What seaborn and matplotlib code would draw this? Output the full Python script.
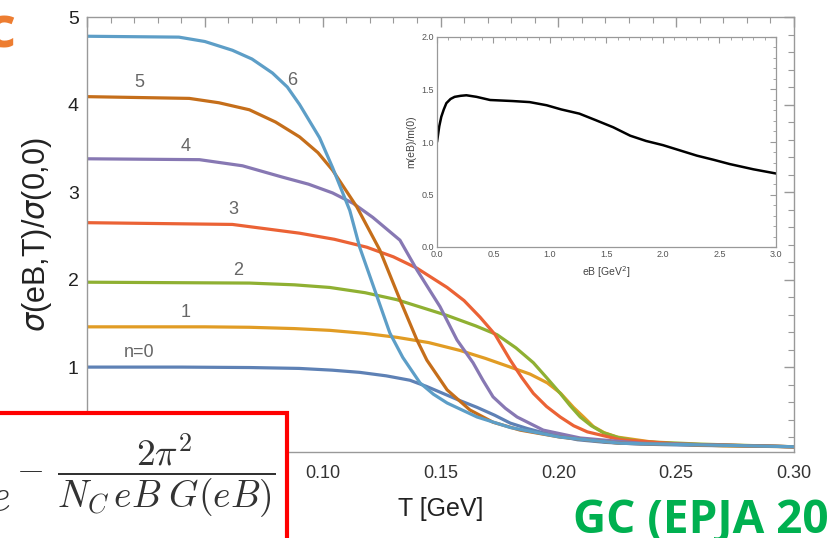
import numpy as np
import pandas as pd
import matplotlib
matplotlib.use("Agg")
import matplotlib.pyplot as plt
import seaborn as sns
from matplotlib.ticker import MultipleLocator, FormatStrFormatter
from matplotlib.patches import Rectangle

# ---------------- data ----------------
labels = ["n=0", "1", "2", "3", "4", "5", "6"]
colors = ["#5E81B5", "#E19C24", "#8FB032", "#EB6235", "#8778B3", "#C56E1A", "#5D9EC7"]

T_n0 = [0.0, 0.04, 0.069, 0.090, 0.104, 0.1157, 0.127, 0.137, 0.144, 0.151, 0.158, 0.1655, 0.173, 0.1796, 0.1866, 0.1936, 0.2008, 0.2081, 0.22, 0.235, 0.26, 0.30]
v_n0 = [1.0, 1.0, 0.995, 0.985, 0.965, 0.94, 0.90, 0.85, 0.78, 0.70, 0.62, 0.54, 0.45, 0.36, 0.30, 0.25, 0.21, 0.17, 0.14, 0.12, 0.105, 0.09]

T_n1 = [0.0, 0.05, 0.069, 0.088, 0.103, 0.118, 0.1315, 0.145, 0.1583, 0.169, 0.1796, 0.188, 0.1953, 0.201, 0.2064, 0.2107, 0.2149, 0.2195, 0.2251, 0.2434, 0.27, 0.30]
v_n1 = [1.46, 1.46, 1.455, 1.44, 1.42, 1.385, 1.34, 1.28, 1.19, 1.10, 1.00, 0.92, 0.82, 0.70, 0.54, 0.43, 0.32, 0.25, 0.20, 0.13, 0.10, 0.09]

T_n2 = [0.0, 0.069, 0.088, 0.103, 0.118, 0.1315, 0.1528, 0.165, 0.174, 0.182, 0.1894, 0.195, 0.2008, 0.205, 0.2093, 0.214, 0.2191, 0.226, 0.2349, 0.2604, 0.30]
v_n2 = [1.97, 1.96, 1.94, 1.91, 1.85, 1.77, 1.59, 1.47, 1.37, 1.22, 1.05, 0.88, 0.70, 0.56, 0.43, 0.33, 0.25, 0.19, 0.15, 0.12, 0.09]

T_n3 = [0.0, 0.0617, 0.0902, 0.105, 0.1187, 0.13, 0.14, 0.1528, 0.16, 0.1668, 0.1732, 0.1796, 0.1845, 0.1894, 0.195, 0.2008, 0.2065, 0.2123, 0.2264, 0.2519, 0.30]
v_n3 = [2.65, 2.63, 2.53, 2.46, 2.37, 2.26, 2.13, 1.91, 1.76, 1.57, 1.37, 1.08, 0.88, 0.70, 0.55, 0.43, 0.33, 0.26, 0.17, 0.12, 0.09]

T_n4 = [0.0, 0.0477, 0.066, 0.083, 0.094, 0.1042, 0.113, 0.1213, 0.1328, 0.14, 0.1498, 0.157, 0.1638, 0.168, 0.1723, 0.1775, 0.1825, 0.1936, 0.2093, 0.235, 0.30]
v_n4 = [3.38, 3.37, 3.30, 3.17, 3.09, 2.99, 2.87, 2.71, 2.45, 2.11, 1.69, 1.31, 1.05, 0.85, 0.66, 0.53, 0.43, 0.28, 0.19, 0.13, 0.09]

T_n5 = [0.0, 0.0434, 0.056, 0.0689, 0.080, 0.0902, 0.098, 0.1042, 0.1145, 0.1242, 0.1328, 0.14, 0.1442, 0.1528, 0.1625, 0.1723, 0.1838, 0.2008, 0.226, 0.30]
v_n5 = [4.09, 4.07, 4.02, 3.94, 3.80, 3.63, 3.45, 3.25, 2.83, 2.34, 1.77, 1.31, 1.08, 0.74, 0.51, 0.37, 0.28, 0.20, 0.13, 0.09]

T_n6 = [0.0, 0.039, 0.05, 0.0617, 0.070, 0.0787, 0.085, 0.0902, 0.0987, 0.1042, 0.1115, 0.1157, 0.1221, 0.1285, 0.134, 0.1413, 0.147, 0.1528, 0.1655, 0.1796, 0.2008, 0.2264, 0.30]
v_n6 = [4.78, 4.77, 4.72, 4.62, 4.52, 4.36, 4.20, 4.00, 3.62, 3.28, 2.79, 2.37, 1.88, 1.39, 1.11, 0.82, 0.69, 0.59, 0.43, 0.31, 0.20, 0.13, 0.09]

T_series = [T_n0, T_n1, T_n2, T_n3, T_n4, T_n5, T_n6]
v_series = [v_n0, v_n1, v_n2, v_n3, v_n4, v_n5, v_n6]

# curve label positions (data coords)
label_T = [0.022, 0.042, 0.064, 0.062, 0.042, 0.022, 0.087]
label_v = [1.17, 1.62, 2.10, 2.80, 3.52, 4.25, 4.27]

# inset data
eB = [0.0, 0.02, 0.038, 0.06, 0.083, 0.12, 0.156, 0.21, 0.26, 0.35, 0.47, 0.67, 0.82, 0.97, 1.1, 1.26, 1.4, 1.56, 1.71, 1.85, 2.0, 2.15, 2.3, 2.45, 2.59, 2.8, 3.0]
m_ratio = [1.0, 1.15, 1.24, 1.31, 1.37, 1.41, 1.43, 1.44, 1.445, 1.43, 1.40, 1.39, 1.38, 1.35, 1.31, 1.27, 1.21, 1.14, 1.06, 1.01, 0.97, 0.92, 0.87, 0.83, 0.79, 0.74, 0.70]

# ---------------- build frames ----------------
rows = []
for lab, Ts, vs in zip(labels, T_series, v_series):
    for t, v in zip(Ts, vs):
        rows.append({"T": t, "sigma": v, "n": lab})
df = pd.DataFrame(rows)
df_in = pd.DataFrame({"eB": eB, "m": m_ratio})

sns.set_style("white")
plt.rcParams["font.family"] = ["Liberation Sans", "DejaVu Sans"]

W, H = 828, 538
fig = plt.figure(figsize=(W / 100, H / 100), dpi=100)
fig.patch.set_facecolor("white")

ax = fig.add_axes([87 / W, 1 - 452 / H, (794 - 87) / W, (452 - 17) / H])
sns.lineplot(data=df, x="T", y="sigma", hue="n", palette=dict(zip(labels, colors)),
             hue_order=labels, estimator=None, sort=False, linewidth=2.3,
             legend=False, ax=ax)
for ln in ax.get_lines():
    ln.set_solid_joinstyle("round")
ax.set_xlim(0.0, 0.30)
ax.set_ylim(0.03, 5.0)
ax.xaxis.set_major_locator(MultipleLocator(0.05))
ax.xaxis.set_minor_locator(MultipleLocator(0.01))
ax.yaxis.set_major_locator(MultipleLocator(1))
ax.yaxis.set_minor_locator(MultipleLocator(0.2))
ax.xaxis.set_major_formatter(FormatStrFormatter("%.2f"))
ax.tick_params(which="both", direction="in", top=True, right=True, color="#999999")
ax.tick_params(which="major", length=7, width=1)
ax.tick_params(which="minor", length=4, width=0.8)
ax.tick_params(axis="x", labelsize=13, labelcolor="#333333", pad=9)
ax.tick_params(axis="y", labelsize=14, labelcolor="#222222", pad=6)
for s in ax.spines.values():
    s.set_color("#999999")
    s.set_linewidth(1.0)
ax.set_xlabel("T [GeV]", fontsize=18, color="#222222", labelpad=11)
ax.set_ylabel(r"$\sigma$(eB,T)/$\sigma$(0,0)", fontsize=22, color="#222222", labelpad=10)

for lab, tx, ty, c in zip(labels, label_T, label_v, colors):
    ax.text(tx, ty, lab, fontsize=13, color="#666666", ha="center", va="center")

# ---------------- inset ----------------
ax2 = fig.add_axes([437 / W, 1 - 247 / H, (776 - 437) / W, (247 - 37) / H])
sns.lineplot(data=df_in, x="eB", y="m", color="black", linewidth=1.8,
             estimator=None, sort=False, ax=ax2)
ax2.set_xlim(0, 3.0)
ax2.set_ylim(0, 2.0)
ax2.xaxis.set_major_locator(MultipleLocator(0.5))
ax2.xaxis.set_minor_locator(MultipleLocator(0.1))
ax2.yaxis.set_major_locator(MultipleLocator(0.5))
ax2.yaxis.set_minor_locator(MultipleLocator(0.1))
ax2.xaxis.set_major_formatter(FormatStrFormatter("%.1f"))
ax2.yaxis.set_major_formatter(FormatStrFormatter("%.1f"))
ax2.tick_params(which="both", direction="in", top=True, right=True, color="#999999")
ax2.tick_params(which="major", length=4, width=0.8)
ax2.tick_params(which="minor", length=2, width=0.6)
ax2.tick_params(labelsize=6.5, labelcolor="#555555", pad=2)
for s in ax2.spines.values():
    s.set_color("#999999")
    s.set_linewidth(0.9)
ax2.set_xlabel(r"eB [GeV$^2$]", fontsize=7.5, color="#444444", labelpad=4)
ax2.set_ylabel("m(eB)/m(0)", fontsize=7.5, color="#444444", labelpad=4)

# ---------------- overlays from the slide ----------------
box = Rectangle((-20 / W, -20 / H), (287 + 20) / W, (20 + 538 - 413) / H,
                transform=fig.transFigure, facecolor="white", edgecolor="#FF0000",
                linewidth=3, zorder=10)
fig.patches.append(box)
fig.text(10 / W, 1 - 510 / H, r"$e$", fontsize=32, ha="right", va="baseline",
         math_fontfamily="cm", color="#333333", zorder=11)
fig.text(30 / W, 1 - 468 / H, r"$-$", fontsize=26, ha="center", va="center",
         math_fontfamily="cm", color="#333333", zorder=11)
fig.text(166 / W, 1 - 476 / H, r"$\dfrac{2\pi^2}{N_C\,eB\;G(eB)}$", fontsize=27,
         ha="center", va="center", math_fontfamily="cm", color="#333333", zorder=11)

fig.text(573 / W, 1 - 533 / H, "GC (EPJA 2019)", fontsize=33, fontweight="bold",
         color="#00B050", family=["Open Sans", "DejaVu Sans"], ha="left", va="baseline")
fig.text(15 / W, 1 - 47 / H, "c", fontsize=42, fontweight="bold",
         color="#ED7D31", family=["Open Sans", "DejaVu Sans"], ha="right", va="baseline")

fig.savefig("out.png", dpi=100, facecolor="white")
